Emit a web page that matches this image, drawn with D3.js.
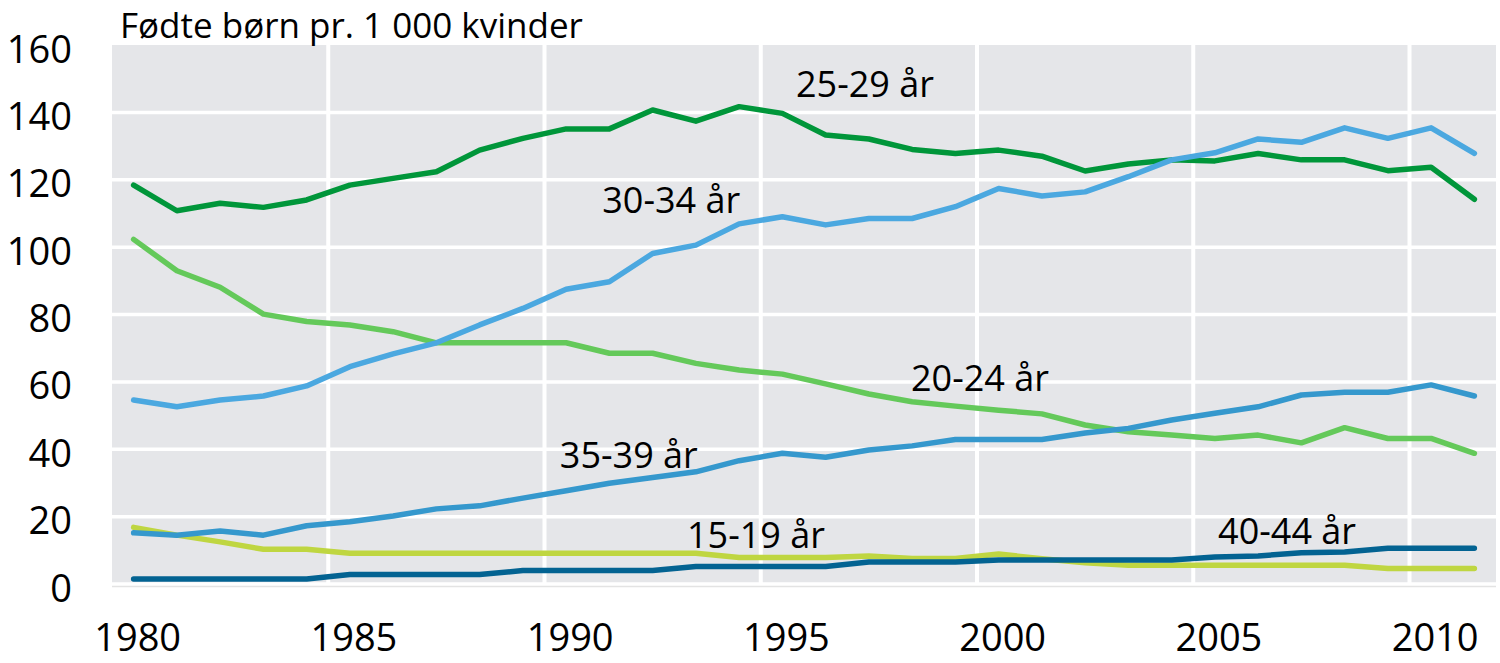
<!DOCTYPE html>
<html>
<head>
<meta charset="utf-8">
<script src="https://cdn.jsdelivr.net/npm/d3@7"></script>
<style>
  html, body { margin: 0; padding: 0; background: #ffffff; }
  svg { display: block; }
  text { font-family: "Open Sans", "Noto Sans", sans-serif; fill: #000; }
</style>
</head>
<body>
<svg id="chart" width="1500" height="663"></svg>
<script>
// ---- data ----
const years = [1980,1981,1982,1983,1984,1985,1986,1987,1988,1989,
               1990,1991,1992,1993,1994,1995,1996,1997,1998,1999,
               2000,2001,2002,2003,2004,2005,2006,2007,2008,2009,
               2010,2011];
const seriesNames = ["15-19 år","20-24 år","25-29 år","30-34 år","35-39 år","40-44 år"];
const s15_19 = [16.8,14.5,12.5,10.3,10.3,9.1,9.1,9.1,9.1,9.1,
                9.1,9.1,9.1,9.1,7.9,7.9,7.9,8.3,7.6,7.6,
                8.9,7.5,6.3,5.6,5.6,5.6,5.6,5.6,5.6,4.6,
                4.6,4.6];
const s20_24 = [102.3,93,88.1,80.1,77.9,76.9,74.9,71.6,71.6,71.6,
                71.6,68.5,68.5,65.5,63.5,62.3,59.4,56.4,54.1,52.8,
                51.6,50.5,47.2,45.2,44.2,43.2,44.2,41.9,46.4,43.2,
                43.2,38.8];
const s25_29 = [118.4,110.8,113,111.8,114,118.4,120.4,122.4,128.8,132.3,
                135.1,135.1,140.7,137.4,141.7,139.7,133.3,132.1,129,127.8,
                128.8,127,122.6,124.7,125.9,125.6,127.8,125.9,125.9,122.7,
                123.7,114.2];
const s30_34 = [54.6,52.6,54.6,55.8,58.8,64.5,68.3,71.6,76.9,81.8,
                87.5,89.7,98.1,100.6,106.9,109,106.6,108.5,108.5,112,
                117.4,115.2,116.4,120.9,125.9,128,132.1,131.1,135.4,132.3,
                135.4,127.8];
const s35_39 = [15.2,14.5,15.7,14.5,17.3,18.5,20.2,22.3,23.2,25.5,
                27.7,29.9,31.6,33.3,36.6,38.8,37.6,39.8,41,42.9,
                42.9,42.9,44.8,46.2,48.7,50.7,52.6,56.1,56.9,56.9,
                59.1,55.8];
const s40_44 = [1.5,1.5,1.5,1.5,1.5,2.8,2.8,2.8,2.8,4,
                4,4,4,5.2,5.2,5.2,5.2,6.5,6.5,6.5,
                7.1,7.1,7.1,7.1,7.1,8,8.3,9.3,9.5,10.6,
                10.6,10.6];
const seriesValues = [s15_19, s20_24, s25_29, s30_34, s35_39, s40_44];
const seriesColors = ["#bfd641","#64c95a","#00963a","#4ba8e0","#3598cd","#036392"];
const yTicks = [0,20,40,60,80,100,120,140,160];
const xTickYears = [1980,1985,1990,1995,2000,2005,2010];
const gridYears = [1985,1990,1995,2000,2005,2010];
const yTitle = "Fødte børn pr. 1 000 kvinder";
// label anchor positions (year, value) for in-chart series labels
const labelYears  = [1994.39, 1999.57, 1996.91, 1992.43, 1991.45, 2006.67];
const labelValues = [10.7, 57.3, 144.6, 110.1, 34.4, 11.9];

// ---- layout ----
const svg = d3.select("#chart");
const plotLeft = 112, plotRight = 1496, plotTop = 45, plotBottom = 584;

const x = d3.scaleBand().domain(years).range([plotLeft, plotRight]).paddingInner(0).paddingOuter(0);
const xc = d => x(d) + x.bandwidth() / 2;
const xLin = d3.scaleLinear().domain([years[0], years[years.length - 1]]).range([xc(years[0]), xc(years[years.length - 1])]);
const y = d3.scaleLinear().domain([0, 160]).range([plotBottom, plotTop]);

// background
svg.append("rect")
  .attr("x", plotLeft).attr("y", y(160))
  .attr("width", plotRight - plotLeft).attr("height", y(0) - y(160))
  .attr("fill", "#e5e6e9");

// horizontal gridlines
svg.append("g").selectAll("line").data(yTicks.filter(t => t < 160)).join("line")
  .attr("x1", plotLeft).attr("x2", plotRight)
  .attr("y1", d => y(d)).attr("y2", d => y(d))
  .attr("stroke", "#ffffff").attr("stroke-width", 3.5);

// vertical gridlines at category boundaries
svg.append("g").selectAll("line").data(gridYears).join("line")
  .attr("x1", d => x(d)).attr("x2", d => x(d))
  .attr("y1", y(160)).attr("y2", y(0))
  .attr("stroke", "#ffffff").attr("stroke-width", 4);

// thin base line
svg.append("line")
  .attr("x1", plotLeft).attr("x2", plotRight)
  .attr("y1", y(0) + 2.5).attr("y2", y(0) + 2.5)
  .attr("stroke", "#e3e3e3").attr("stroke-width", 1.5);

// lines
const line = d3.line().x((d, i) => xc(years[i])).y(d => y(d));
svg.append("g").selectAll("path").data(seriesValues).join("path")
  .attr("d", d => line(d))
  .attr("fill", "none")
  .attr("stroke", (d, i) => seriesColors[i])
  .attr("stroke-width", 5.5)
  .attr("stroke-linejoin", "round")
  .attr("stroke-linecap", "round");

// y axis
const yAxis = svg.append("g")
  .attr("transform", `translate(72,0)`)
  .call(d3.axisLeft(y).tickValues(yTicks).tickSize(0).tickPadding(0));
yAxis.select(".domain").remove();
yAxis.selectAll("text")
  .attr("font-family", "Open Sans").attr("font-size", 38)
  .attr("dy", "0.45em").attr("fill", "#000");

// x axis
const xAxis = svg.append("g")
  .attr("transform", `translate(4,${plotBottom})`)
  .call(d3.axisBottom(x).tickValues(xTickYears).tickSize(0).tickPadding(40));
xAxis.select(".domain").remove();
xAxis.selectAll("text")
  .attr("font-family", "Open Sans").attr("font-size", 38).attr("fill", "#000");

// axis title
svg.append("text")
  .attr("x", 120).attr("y", 38)
  .attr("font-size", 35)
  .text(yTitle);

// series labels
svg.append("g").selectAll("text").data(seriesNames).join("text")
  .attr("x", (d, i) => xLin(labelYears[i]))
  .attr("y", (d, i) => y(labelValues[i]))
  .attr("text-anchor", "middle")
  .attr("font-size", 36)
  .text(d => d);
</script>
</body>
</html>
